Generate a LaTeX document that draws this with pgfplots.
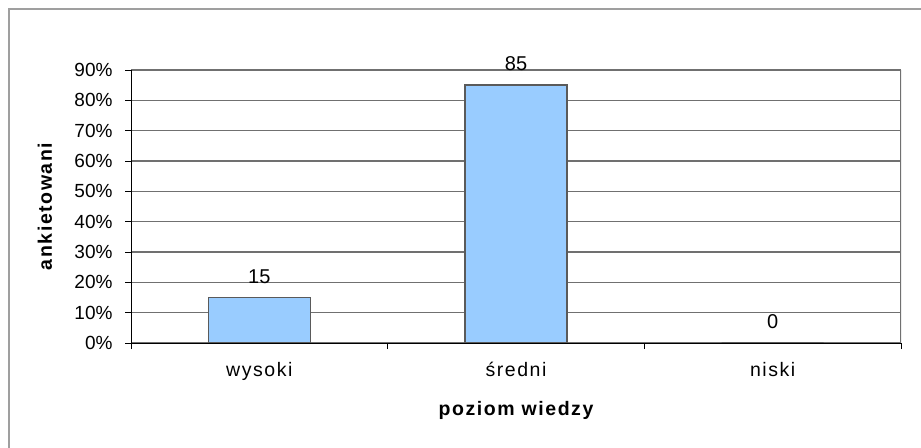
\documentclass[border=0pt]{standalone}
\usepackage{fontspec}
\setmainfont{Liberation Sans}
\newfontfamily\spaced[LetterSpace=8]{Liberation Sans}
\usepackage{pgfplots}
\pgfplotsset{compat=1.18}
\definecolor{barblue}{HTML}{99CCFF}
\definecolor{gridgray}{HTML}{707070}
\definecolor{baredge}{HTML}{5A5A5A}
\newcommand{\chartfont}{\fontsize{19bp}{22bp}\selectfont}
\newcommand{\labelfont}{\spaced\fontsize{19.5bp}{22bp}\selectfont}
\begin{document}
\begin{tikzpicture}[x=1bp,y=1bp]
\useasboundingbox (0,0) rectangle (921,-448);
\draw[gray!75, line width=2.5bp] (9,-9) rectangle (945,-475);
\begin{axis}[
  at={(131bp,-343bp)}, anchor=south west,
  scale only axis, width=770bp, height=273bp,
  xmin=-0.5, xmax=2.5, ymin=0, ymax=90,
  ytick={0,10,...,90},
  yticklabel={\pgfmathprintnumber{\tick}\%},
  xtick={0,1,2}, xticklabels={wysoki, średni, niski},
  major x tick style={draw=none},
  minor xtick={-0.5,0.5,1.5,2.5},
  axis x line*=bottom, axis y line*=left,
  tick align=outside,
  major tick length=6bp, minor tick length=6bp,
  ymajorgrids, grid style={gridgray, line width=1.2bp},
  axis line style={black, line width=1bp},
  tick style={black, line width=1bp},
  yticklabel style={font=\chartfont, xshift=-9bp},
  xticklabel style={font=\labelfont, yshift=-10bp},
  /pgf/number format/assume math mode=true,
  ybar, bar width=102bp,
  nodes near coords,
  nodes near coords style={font=\fontsize{20bp}{22bp}\selectfont, yshift=10bp, /pgf/number format/assume math mode=true},
  xlabel={\bfseries poziom wiedzy}, ylabel={\bfseries ankietowani},
  xlabel style={at={(axis description cs:0.5,-0.2454)}, anchor=center, font=\labelfont},
  ylabel style={at={(axis description cs:-0.1117,0.5)}, anchor=center, rotate=0, font=\labelfont},
]
\addplot[fill=barblue, draw=baredge, line width=1.5bp] coordinates {(0,15) (1,85) (2,0)};
\draw[gridgray, line width=1.2bp] (axis cs:2.5,0) -- (axis cs:2.5,90);
\draw[black, line width=1bp] (axis cs:-0.5,0) -- (axis cs:2.5,0);
\end{axis}
\end{tikzpicture}
\end{document}
